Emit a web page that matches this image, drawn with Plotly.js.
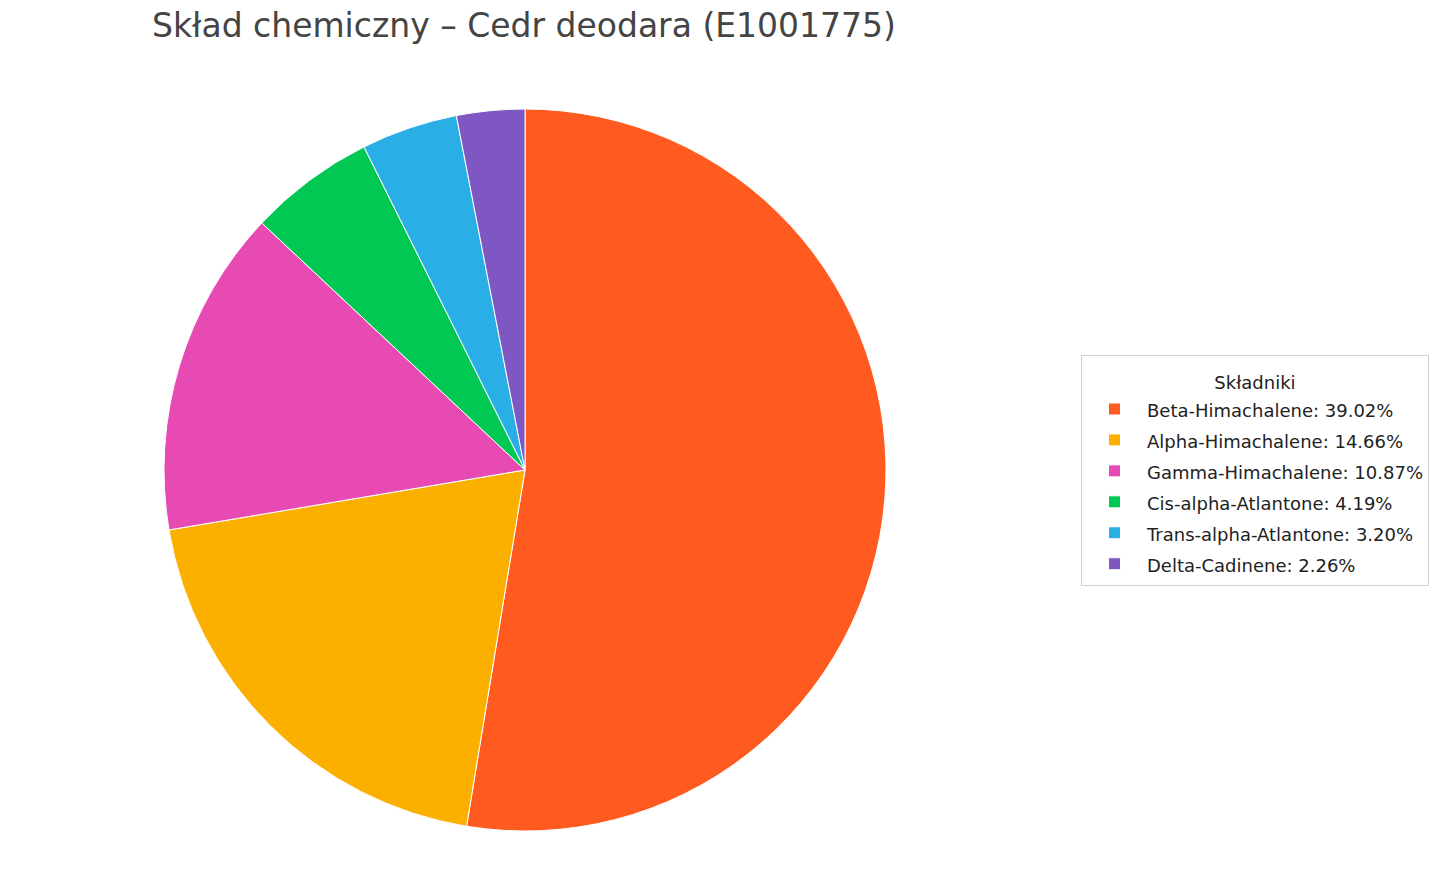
<!DOCTYPE html>
<html>
<head>
<meta charset="utf-8">
<script src="https://cdn.plot.ly/plotly-3.0.1.min.js"></script>
<style>
  html, body { margin: 0; padding: 0; background: #fff; }
  #chart { width: 1445px; height: 878px; }
</style>
</head>
<body>
<div id="chart"></div>
<script>
// components and their reported share (%)
const components = [
  "Beta-Himachalene",
  "Alpha-Himachalene",
  "Gamma-Himachalene",
  "Cis-alpha-Atlantone",
  "Trans-alpha-Atlantone",
  "Delta-Cadinene"
];
const shares = [39.02, 14.66, 10.87, 4.19, 3.20, 2.26];
const sliceColors = ["#FF5A1F", "#FBB000", "#E84AB4", "#00C853", "#2AAEE6", "#7E57C2"];

// legend font is big for row spacing, the visible text is shrunk back via span
const legendLabels = components.map((c, i) =>
  `<span style="font-size:18px">${c}: ${shares[i].toFixed(2)}%</span>`);

const W = 1445, H = 878;

Plotly.newPlot("chart", [{
  type: "pie",
  labels: legendLabels,
  values: shares,
  sort: false,
  direction: "clockwise",
  rotation: 0,
  textinfo: "none",
  hoverinfo: "label",
  marker: { colors: sliceColors, line: { color: "#ffffff", width: 1 } },
  domain: { x: [164 / W, 886 / W], y: [47 / H, 769 / H] }
}], {
  width: W,
  height: H,
  margin: { t: 0, l: 0, r: 0, b: 0 },
  paper_bgcolor: "#fff",
  font: { family: "DejaVu Sans", color: "#222" },
  title: {
    text: "Skład chemiczny – Cedr deodara (E1001775)",
    font: { family: "DejaVu Sans", size: 33, color: "#444" },
    x: 152 / W, xanchor: "left",
    y: 1 - 25 / H, yanchor: "middle",
    xref: "paper", yref: "container"
  },
  showlegend: true,
  legend: {
    x: 1081 / W, xanchor: "left",
    y: 1 - 355 / H, yanchor: "top",
    bgcolor: "#fff",
    bordercolor: "#d0d0d0",
    borderwidth: 1,
    itemwidth: 55,
    font: { family: "DejaVu Sans", size: 21.5, color: "#222" },
    title: {
      text: '<span style="font-size:18px">Składniki</span>',
      side: "top center",
      font: { size: 25, color: "#222" }
    },
    traceorder: "normal"
  }
}, { displayModeBar: false, staticPlot: true });
</script>
</body>
</html>
